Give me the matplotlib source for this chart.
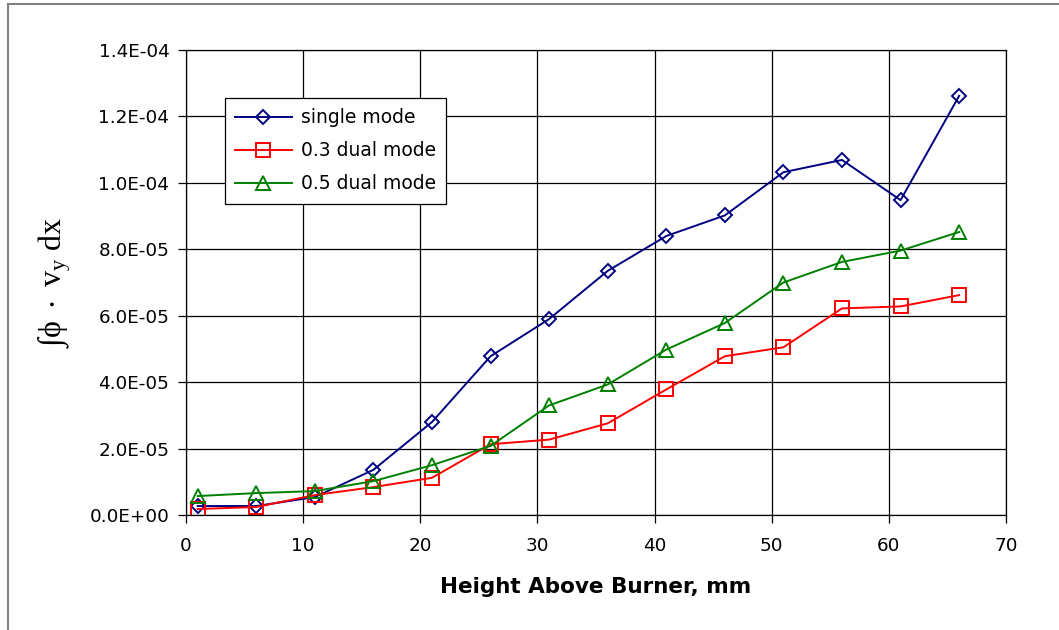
import matplotlib
matplotlib.use("Agg")
import matplotlib.pyplot as plt
from matplotlib.lines import Line2D
from matplotlib.ticker import FuncFormatter, MultipleLocator

plt.rcParams["mathtext.fontset"] = "custom"
plt.rcParams["mathtext.rm"] = "Liberation Serif"
plt.rcParams["mathtext.it"] = "Liberation Serif:italic"
plt.rcParams["mathtext.fallback"] = "stix"

# Height above burner (mm)
height_mm = [1, 6, 11, 16, 21, 26, 31, 36, 41, 46, 51, 56, 61, 66]

# Integrated flux for each operating mode
single_mode = [2.7e-6, 2.7e-6, 5.4e-6, 1.36e-5, 2.8e-5, 4.78e-5, 5.9e-5,
               7.35e-5, 8.4e-5, 9.02e-5, 1.032e-4, 1.069e-4, 9.48e-5, 1.262e-4]
dual_03 = [1.8e-6, 2.4e-6, 6.0e-6, 8.4e-6, 1.12e-5, 2.13e-5, 2.27e-5,
           2.76e-5, 3.78e-5, 4.78e-5, 5.05e-5, 6.22e-5, 6.28e-5, 6.62e-5]
dual_05 = [5.7e-6, 6.6e-6, 7.2e-6, 1.02e-5, 1.5e-5, 2.08e-5, 3.3e-5,
           3.93e-5, 4.98e-5, 5.78e-5, 7.0e-5, 7.62e-5, 7.96e-5, 8.52e-5]

series_labels = ["single mode", "0.3 dual mode", "0.5 dual mode"]

SANS = ["DejaVu Sans"]

fig = plt.figure(figsize=(10.59, 6.30), dpi=100)
ax = fig.add_axes([186 / 1059, 1 - 515 / 630, (1006 - 186) / 1059, (515 - 50) / 630])

ax.plot(height_mm, single_mode, color="#000080", lw=1.4, marker="D", ms=7.5,
        mfc="none", mec="#000080", mew=1.4, label=series_labels[0])
ax.plot(height_mm, dual_03, color="#ff0000", lw=1.4, marker="s", ms=10,
        mfc="none", mec="#ff0000", mew=1.4, label=series_labels[1])
ax.plot(height_mm, dual_05, color="#008000", lw=1.4, marker="^", ms=10.5,
        mfc="none", mec="#008000", mew=1.4, label=series_labels[2])

ax.set_xlim(0, 70)
ax.set_ylim(0, 1.4e-4)
ax.xaxis.set_major_locator(MultipleLocator(10))
ax.yaxis.set_major_locator(MultipleLocator(2e-5))


def sci_fmt(v, pos):
    if abs(v) < 1e-12:
        return "0.0E+00"
    exp = int(f"{v:.1E}".split("E")[1])
    mant = v / 10 ** exp
    sign = "-" if exp < 0 else "+"
    return f"{mant:.1f}E{sign}{abs(exp):02d}"


ax.yaxis.set_major_formatter(FuncFormatter(sci_fmt))
ax.grid(True, color="black", lw=0.9)
ax.set_axisbelow(True)
for sp in ax.spines.values():
    sp.set_color("black")
    sp.set_linewidth(0.9)
ax.tick_params(direction="out", length=6, width=0.9, color="black",
               labelsize=13.2)
ax.tick_params(axis="x", pad=10)
ax.tick_params(axis="y", pad=6)
for lab in ax.get_xticklabels() + ax.get_yticklabels():
    lab.set_family(SANS)

ax.set_xlabel("Height Above Burner, mm", fontsize=15.5, fontweight="bold",
              family=SANS, labelpad=16)
ax.set_ylabel(r"$\mathrm{∫ϕ\ \cdot\ v_y\ dx}$", fontsize=23, labelpad=12)

leg = ax.legend(loc="upper left", bbox_to_anchor=((225 - 186) / 820, (515 - 98) / 465),
                frameon=True, fancybox=False, edgecolor="black", framealpha=1,
                prop={"family": SANS, "size": 13.5}, handlelength=3.0,
                labelspacing=0.75, borderpad=0.55, handletextpad=0.5,
                borderaxespad=0)
leg.get_frame().set_linewidth(0.9)

# outer frame edges
fig.add_artist(Line2D([8 / 1059, 8 / 1059], [0, 1 - 4 / 630], color="#808080", lw=1.5))
fig.add_artist(Line2D([8 / 1059, 1], [1 - 4 / 630, 1 - 4 / 630], color="#808080", lw=1.5))

fig.savefig("out.png", dpi=100)
